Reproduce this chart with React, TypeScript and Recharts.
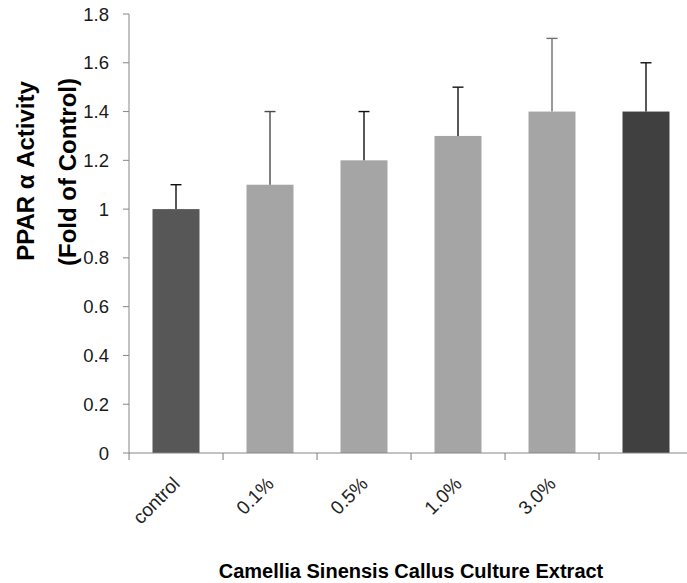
import { BarChart, Bar, XAxis, YAxis, Label } from 'recharts'

const categories = ['control', '0.1%', '0.5%', '1.0%', '3.0%', '']
const activity = [1.0, 1.1, 1.2, 1.3, 1.4, 1.4]
const errorUp = [0.1, 0.3, 0.2, 0.2, 0.3, 0.2]
const yTicks = [0, 0.2, 0.4, 0.6, 0.8, 1, 1.2, 1.4, 1.6, 1.8]

const barColors = ['#575757', '#a5a5a5', '#a5a5a5', '#a5a5a5', '#a5a5a5', '#404040']
const errColors = ['#111111', '#4a4a4a', '#111111', '#111111', '#707070', '#111111']

const FONT = '"Liberation Sans", Arial, sans-serif'
const AXIS = '#868686'

const data = categories.map((name, i) => ({
  name,
  value: activity[i],
  err: errorUp[i],
  idx: i,
}))

// bar + upper-only error whisker; also the axis tick on the left edge of the band
// (barCategoryGap is 25%, so the band is twice the bar width)
function BarWithError(props: any) {
  const { x, y, width, height, payload } = props
  const i = payload.idx
  const perUnit = height / payload.value
  const top = y - payload.err * perUnit
  const cx = x + width / 2
  const base = y + height
  const edge = x - width / 2
  return (
    <g>
      <rect x={x} y={y} width={width} height={height} fill={barColors[i]} />
      <line x1={cx} x2={cx} y1={y} y2={top} stroke={errColors[i]} strokeWidth={1.4} />
      <line x1={cx - 5.5} x2={cx + 5.5} y1={top} y2={top} stroke={errColors[i]} strokeWidth={1.4} />
      <rect x={edge - 0.5} y={base} width={1.1} height={7} fill={AXIS} />
    </g>
  )
}

function XTick(props: any) {
  const { x, y, payload } = props
  if (!payload.value) return <g />
  const tx = x + 5
  const ty = y + 32
  return (
    <text
      x={tx}
      y={ty}
      transform={`rotate(-45, ${tx}, ${ty})`}
      textAnchor="end"
      fontSize={19}
      fill="#222"
      fontFamily={FONT}
    >
      {payload.value}
    </text>
  )
}

function YTitle() {
  return (
    <g fontFamily={FONT} fontWeight="bold" fontSize={24} fill="#000">
      <text x={34} y={171} transform="rotate(-90, 34, 171)" textAnchor="middle">
        PPAR α Activity
      </text>
      <text x={76} y={172} transform="rotate(-90, 76, 172)" textAnchor="middle">
        (Fold of Control)
      </text>
    </g>
  )
}

export default function App() {
  return (
    <div style={{ position: 'absolute', left: 0, top: 0, width: 687, height: 583, overflow: 'hidden', background: '#fff' }}>
      <BarChart
        width={701}
        height={583}
        data={data}
        margin={{ top: 14, right: 8, left: 0, bottom: 0 }}
        barCategoryGap="25%"
        style={{ fontFamily: FONT, overflow: 'visible' }}
      >
        <XAxis
          dataKey="name"
          interval={0}
          height={130}
          tickLine={false}
          tickSize={0}
          tickMargin={0}
          axisLine={{ stroke: AXIS }}
          tick={<XTick />}
        >
          <Label
            value="Camellia Sinensis Callus Culture Extract"
            position="insideBottom"
            offset={5}
            style={{ fontSize: 20, fontWeight: 'bold', fill: '#000', fontFamily: FONT }}
          />
        </XAxis>
        <YAxis
          width={129}
          domain={[0, 1.8]}
          ticks={yTicks}
          interval={0}
          tickSize={6}
          tickMargin={14}
          axisLine={{ stroke: AXIS }}
          tickLine={{ stroke: AXIS }}
          tick={{ fontSize: 18.5, fill: '#1a1a1a', fontFamily: FONT }}
          tickFormatter={(v: number) => String(v)}
        >
          <Label content={<YTitle />} />
        </YAxis>
        <Bar dataKey="value" shape={<BarWithError />} isAnimationActive={false} />
      </BarChart>
    </div>
  )
}
